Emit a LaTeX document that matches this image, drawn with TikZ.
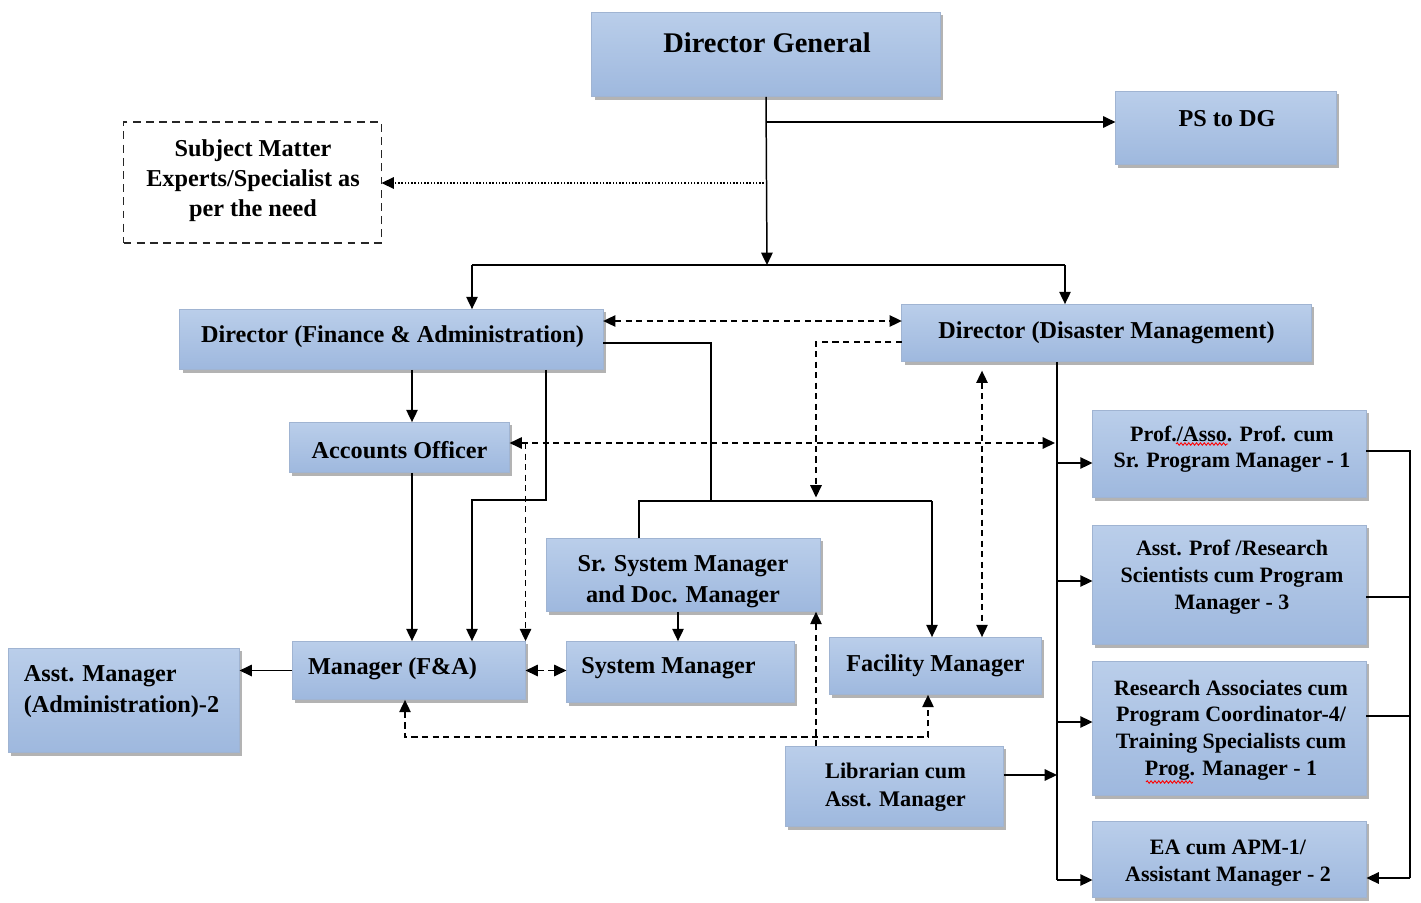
\documentclass[tikz,border=0pt]{standalone}
\usepackage{fontspec}
\setmainfont{Liberation Serif}
\usetikzlibrary{arrows.meta,shadows,decorations.pathmorphing}

\definecolor{boxtop}{RGB}{186,206,234}
\definecolor{boxmid}{RGB}{230,237,247}
\definecolor{boxbot}{RGB}{158,184,222}
\definecolor{boxedge}{RGB}{160,180,210}

\tikzset{
    box/.style={draw=boxedge, line width=0.5pt, top color=boxtop, middle color=boxmid,
        bottom color=boxbot, inner sep=0pt, outer sep=0pt,
        drop shadow={shadow xshift=1.6pt, shadow yshift=-1.6pt, fill=black!50, opacity=0.6}},
    smebox/.style={draw=black!85, line width=1pt, dash pattern=on 4.5pt off 3pt, inner sep=0pt, outer sep=0pt},
    wh/.style 2 args={minimum width=#1*0.5669pt, minimum height=#2*0.5669pt},
    lbl/.style={font=\bfseries\fontsize{13.8}{17.3}\selectfont, align=center, inner sep=0pt, yshift=-1.5pt},
    lblsm/.style={lbl, font=\bfseries\fontsize{12.5}{15.3}\selectfont},
    line/.style={line width=0.85pt},
    arr/.style={line, -{Triangle[length=7pt,width=6.5pt]}},
    darr/.style={line, {Triangle[length=7pt,width=6.5pt]}-{Triangle[length=7pt,width=6.5pt]}},
    dashline/.style={dash pattern=on 3.5pt off 2.5pt},
    spellwave/.style={red, line width=0.5pt, decorate, decoration={snake, segment length=2.2pt, amplitude=0.7pt}},
}

\begin{document}
\begin{tikzpicture}[x=0.02cm, y=-0.02cm]
    \useasboundingbox (0,0) rectangle (1421,903);
    % boxes
    \node[box, wh={350}{85}] (dg) at (766,54.5) {};
    \node[box, wh={222}{74}] (ps) at (1226,128) {};
    \node[smebox, wh={259}{121}] (sme) at (252.5,182.5) {};
    \node[box, wh={425}{61}] (dfa) at (391.5,339.5) {};
    \node[box, wh={411}{58}] (ddm) at (1106.5,333) {};
    \node[box, wh={221}{51}] (acc) at (399.5,447.5) {};
    \node[box, wh={275}{74}] (ssm) at (683.5,575) {};
    \node[box, wh={234}{59}] (mfa) at (409,670.5) {};
    \node[box, wh={232}{105}] (asm) at (124,700.5) {};
    \node[box, wh={229}{62}] (sys) at (680.5,672) {};
    \node[box, wh={213}{58}] (fac) at (935.5,666) {};
    \node[box, wh={219}{81}] (lib) at (894.5,786.5) {};
    \node[box, wh={275}{88}] (prof) at (1229.5,454) {};
    \node[box, wh={275}{120}] (apr) at (1229.5,585) {};
    \node[box, wh={275}{135}] (ra) at (1229.5,728.5) {};
    \node[box, wh={275}{77}] (ea) at (1229.5,859.5) {};
    % texts
    \node[lbl, font=\bfseries\fontsize{16.2}{19}\selectfont] (dgt) at (767,40) {Director General};
    \node[lbl] (pst) at (1227,116) {PS to DG};
    \node[lbl] (smet) at (253,178) {Subject Matter\\Experts/Specialist as\\per the need};
    \node[lbl] (dfat) at (392.5,334) {Director (Finance \& Administration)};
    \node[lbl] (ddmt) at (1106.5,330) {Director (Disaster Management)};
    \node[lbl] (acct) at (399.5,447) {Accounts Officer};
    \node[lbl] (ssmt) at (683,579) {Sr. System Manager\\and Doc. Manager};
    \node[lbl] (mfat) at (392.5,666) {Manager (F\&A)};
    \node[lbl, align=left, font=\bfseries\fontsize{13.8}{18}\selectfont] (asmt) at (121.5,689) {Asst. Manager\\(Administration)-2};
    \node[lbl] (syst) at (668.5,666) {System Manager};
    \node[lbl] (fact) at (935.5,663) {Facility Manager};
    \node[lbl, font=\bfseries\fontsize{12.7}{16.4}\selectfont] (libt) at (895.5,784.5) {Librarian cum\\Asst. Manager};
    \node[lblsm] (proft) at (1232,446.5) {Prof./Asso. Prof. cum\\Sr. Program Manager - 1};
    \node[lblsm] (aprt) at (1232,574.5) {Asst. Prof /Research\\Scientists cum Program\\Manager - 3};
    \node[lblsm] (rat) at (1231,727.5) {Research Associates cum\\Program Coordinator-4/\\Training Specialists cum\\Prog. Manager - 1};
    \node[lblsm] (eat) at (1228,860.5) {EA cum APM-1/\\Assistant Manager - 2};
    % spell check marks
    \draw[spellwave] (1176,444) -- (1228,444);
    \draw[spellwave] (1146,782) -- (1193,782);
    % junctions
    \coordinate (j1) at (767,122);
    \coordinate (j2) at (767,183);
    \coordinate (bus) at (767,265);
    \coordinate (busl) at (472,265);
    \coordinate (busr) at (1065,265);
    \coordinate (dlink) at (750,321);
    \coordinate (fa1) at (711,343);
    \coordinate (it1) at (639,501);
    \coordinate (it2) at (932,501);
    \coordinate (dm1) at (816,342);
    \coordinate (a1) at (412,0);
    \coordinate (fb) at (546,500);
    \coordinate (fc) at (472,500);
    \coordinate (ad) at (1055,443);
    \coordinate (fd) at (982,0);
    \coordinate (p1) at (1057,463);
    \coordinate (p2) at (1057,581);
    \coordinate (p3) at (1057,722);
    \coordinate (p4) at (1057,880);
    \coordinate (l1) at (1057,775);
    \coordinate (r1) at (1410,451);
    \coordinate (r2) at (1410,597);
    \coordinate (r3) at (1410,716);
    \coordinate (r4) at (1410,878);
    \coordinate (s1) at (678,0);
    \coordinate (b1) at (405,737);
    \coordinate (b2) at (928,737);
    \coordinate (l2) at (816,0);
    % director general
    \draw[arr] (dg.south) -- (bus);
    \draw[arr] (j1) -- (j1 -| ps.west);
    \draw[arr, densely dotted] (j2) -- (j2 -| sme.east);
    \draw[line] (busl) -- (busr);
    \draw[arr] (busl) -- (busl |- dfa.north);
    \draw[arr] (busr) -- (busr |- ddm.north);
    \draw[darr, dashline] (dlink -| dfa.east) -- (dlink -| ddm.west);
    % finance and administration
    \draw[line] (fa1 -| dfa.east) -- (fa1) -- (fa1 |- it1);
    \draw[line] (it1 |- ssm.north) -- (it1) -- (it2);
    \draw[arr] (it2) -- (it2 |- fac.north);
    \draw[arr] (dfa.south -| a1) -- (acc.north -| a1);
    \draw[arr] (dfa.south -| fb) -- (fb) -- (fc) -- (fc |- mfa.north);
    \draw[arr] (acc.south -| a1) -- (mfa.north -| a1);
    \draw[darr, dashline] (ad -| acc.east) -- (ad);
    \draw[arr, dashline] (mfa.north east |- ad) -- (mfa.north east);
    \draw[arr] (mfa.west) -- (mfa.west -| asm.east);
    \draw[darr, dashline] (mfa.east) -- (mfa.east -| sys.west);
    \draw[arr] (ssm.south -| s1) -- (sys.north -| s1);
    \draw[darr, dashline] (mfa.south -| b1) -- (b1) -- (b2) -- (fac.south -| b2);
    \draw[arr, dashline] (lib.north -| l2) -- (ssm.south -| l2);
    % disaster management
    \draw[arr, dashline] (dm1 -| ddm.west) -- (dm1) -- ([yshift=2pt]dm1 |- it1);
    \draw[darr, dashline, shorten <=5pt] (ddm.south -| fd) -- (fac.north -| fd);
    \draw[line] (ddm.south -| p1) -- (p4);
    \foreach \p/\b in {p1/prof, p2/apr, p3/ra, p4/ea}
        \draw[arr] (\p) -- (\p -| \b.west);
    \draw[arr] (l1 -| lib.east) -- (l1);
    % faculty side
    \draw[line] (r1 -| prof.east) -- (r1) -- (r4);
    \draw[line] (r2 -| apr.east) -- (r2);
    \draw[line] (r3 -| ra.east) -- (r3);
    \draw[arr] (r4) -- (r4 -| ea.east);
\end{tikzpicture}
\end{document}
